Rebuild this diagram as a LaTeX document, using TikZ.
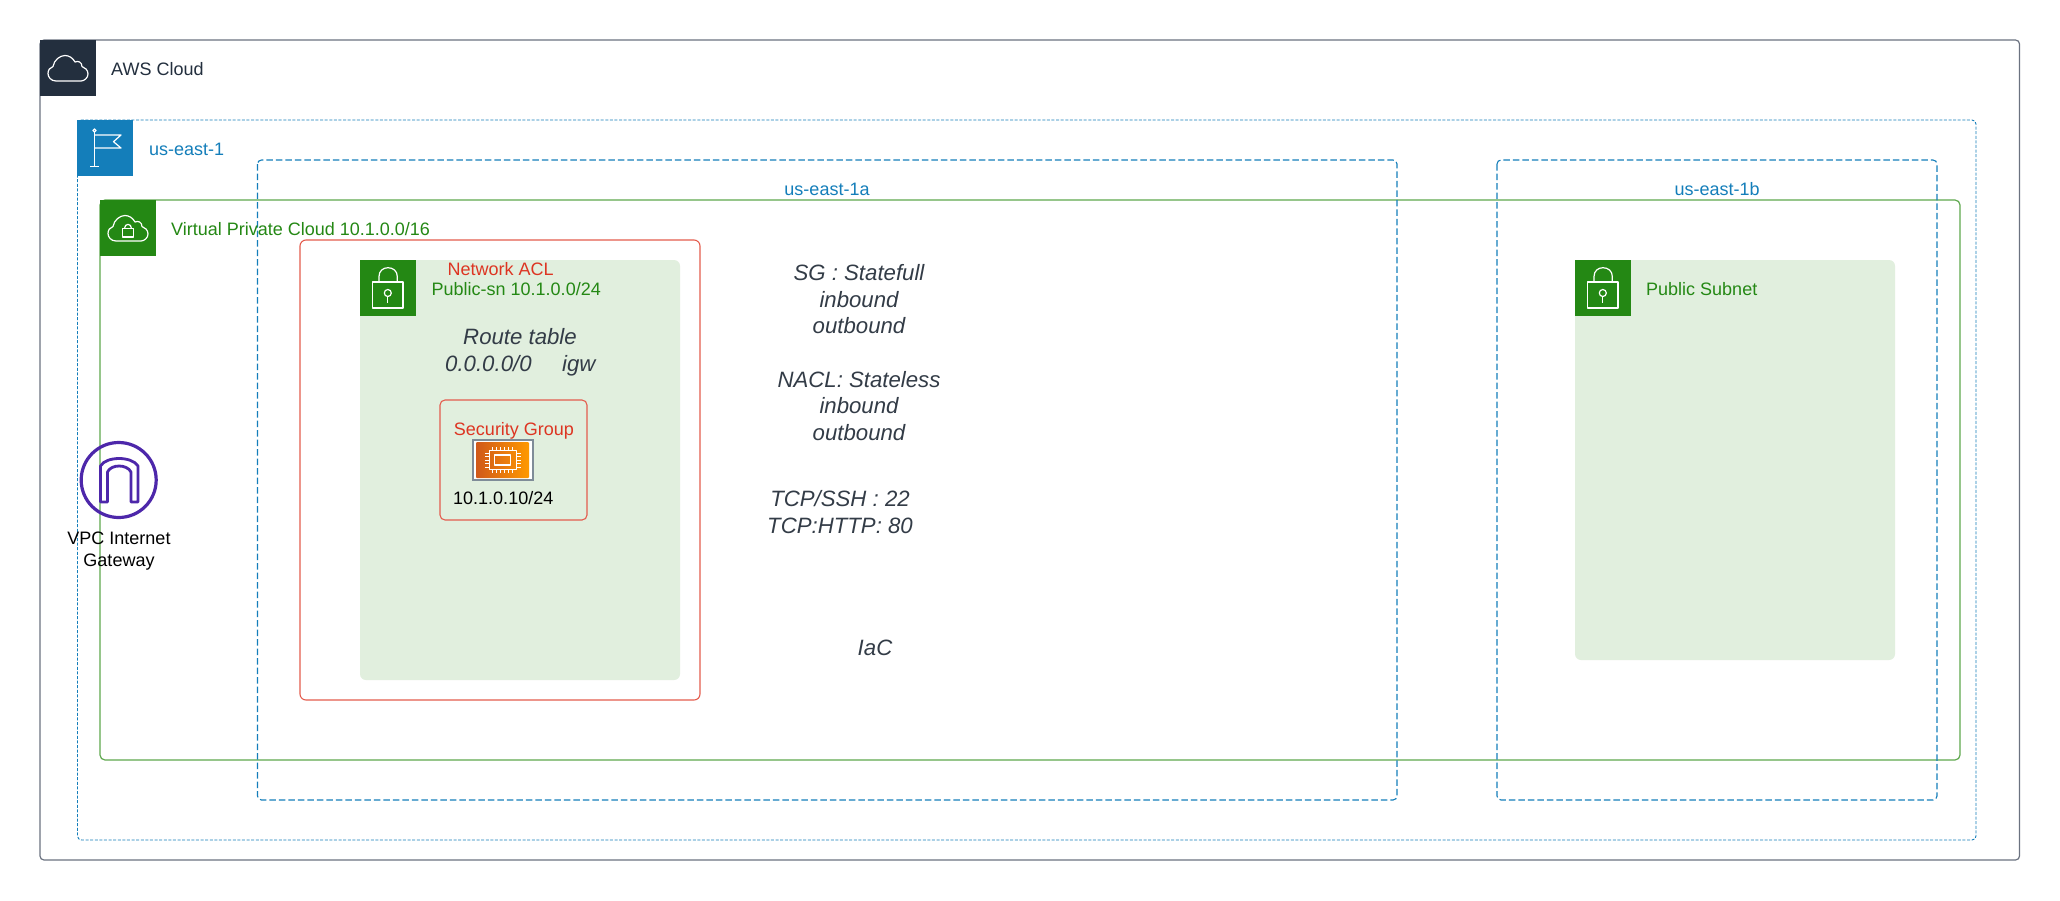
\documentclass[tikz,border=0pt]{standalone}
\usepackage{fontspec}
\setmainfont{Liberation Sans}
\definecolor{awsdark}{HTML}{232F3E}
\definecolor{awsline}{HTML}{6B7280}
\definecolor{regionblue}{HTML}{147EBA}
\definecolor{vpcgreen}{HTML}{248814}
\definecolor{vpcline}{HTML}{5FA84E}
\definecolor{subnetfill}{HTML}{E1EFDE}
\definecolor{aclred}{HTML}{DD3522}
\definecolor{noteink}{HTML}{333C47}
\definecolor{igwpurple}{HTML}{4D27AA}
\definecolor{ec2dark}{HTML}{D0591A}
\definecolor{ec2light}{HTML}{FF9900}
\definecolor{ec2frame}{HTML}{7F8C98}
\tikzset{
  x=1pt,y=-1pt,
  cloudbox/.style={draw=awsline,line width=1.2pt,rounded corners=4pt},
  regionbox/.style={draw=regionblue,line width=0.9pt,dash pattern=on 3pt off 1.6pt,rounded corners=4pt},
  zonebox/.style={draw=regionblue,line width=1.1pt,dash pattern=on 6.5pt off 3pt,rounded corners=4pt},
  vpcbox/.style={draw=vpcline,line width=1.2pt,rounded corners=5pt},
  aclbox/.style={draw=aclred!80,line width=1.1pt,rounded corners=6pt},
  subnetbox/.style={fill=subnetfill,rounded corners=6pt},
  iconline/.style={draw=white,line width=1.2pt,line join=round},
  lbl/.style={inner sep=0pt,anchor=mid west,yshift=-8.5pt,font=\fontsize{18}{22}\selectfont},
  ctr/.style={inner sep=0pt,anchor=mid,yshift=-8.5pt,font=\fontsize{18}{22}\selectfont},
  note/.style={inner sep=0pt,anchor=mid,yshift=-8.5pt,text=noteink,font=\fontsize{22.2}{26}\selectfont\itshape},
  cloudicon/.pic={\path[iconline] (16,41) .. controls (11,41) and (8,37) .. (8,33.5)
      .. controls (8,30) and (10,27.5) .. (13,26.5)
      .. controls (14,20) and (20,15.5) .. (25,15.5)
      .. controls (29,15.5) and (33,18) .. (35,22)
      .. controls (38,20.5) and (42,22) .. (42,26.5)
      .. controls (45,27.5) and (48,30) .. (48,34)
      .. controls (48,38) and (44,41) .. (41,41) -- cycle;},
  lockicon/.pic={\path[iconline] (12.7,22) rectangle (43,48);
    \path[iconline] (19,22) -- (19,16.5) .. controls (19,11) and (23,7.7) .. (28,7.7)
      .. controls (33,7.7) and (37.3,11) .. (37.3,16.5) -- (37.3,22);
    \path[iconline] (27.8,33) circle[radius=3.5pt];
    \path[iconline] (27.8,36.5) -- (27.8,43);},
}
\begin{document}
\begin{tikzpicture}
\useasboundingbox (0,0) rectangle (2060,900);
\fill[white] (0,0) rectangle (2060,900);
% containers
\draw[cloudbox] (40,40) rectangle (2019.5,860);
\draw[regionbox] (77.5,120) rectangle (1976,840);
\draw[vpcbox] (100,200) rectangle (1960,760);
\draw[zonebox] (257.5,160) rectangle (1397,800);
\draw[zonebox] (1497,160) rectangle (1937,800);
\draw[aclbox] (300,240) rectangle (700,700);
\path[subnetbox] (360,260) rectangle (680,680);
\path[subnetbox] (1575,260) rectangle (1895,660);
\draw[aclbox,rounded corners=5pt] (440,400) rectangle (587,520);
% AWS Cloud tab
\fill[awsdark] (40,40) rectangle (96,96);
\begin{scope}[shift={(40,40)}]\pic {cloudicon};\end{scope}
\node[lbl,text=awsdark] (awslabel) at (111,64.5) {AWS Cloud};
% region tab
\fill[regionblue] (77,120) rectangle (133,176);
\begin{scope}[shift={(77,120)}]
  \path[iconline] (17.5,12) -- (17.5,46.7);
  \path[iconline] (13,46.7) -- (22,46.7);
  \path[iconline] (17.5,10.5) circle[radius=1.6pt];
  \path[iconline] (17.5,15) -- (44,15) -- (36.5,21.7) -- (44,28) -- (17.5,28);
\end{scope}
\node[lbl,text=regionblue] (regionlabel) at (149,144.5) {us-east-1};
% VPC tab
\fill[vpcgreen] (100,200) rectangle (156,256);
\begin{scope}[shift={(100,200)}]
  \pic {cloudicon};
  \path[iconline] (22.5,28.5) rectangle (33.5,37);
  \path[iconline] (24.5,28.5) .. controls (24.5,23) and (31.5,23) .. (31.5,28.5);
\end{scope}
\node[lbl,text=vpcgreen] (vpclabel) at (171,224.5) {Virtual Private Cloud 10.1.0.0/16};
% zone labels
\node[ctr,text=regionblue] (zonealabel) at (827,184.5) {us-east-1a};
\node[ctr,text=regionblue] (zoneblabel) at (1717,184.5) {us-east-1b};
% subnet tabs
\fill[vpcgreen] (360,260) rectangle (416,316);
\begin{scope}[shift={(360,260)}]\pic {lockicon};\end{scope}
\fill[vpcgreen] (1575,260) rectangle (1631,316);
\begin{scope}[shift={(1575,260)}]\pic {lockicon};\end{scope}
\node[lbl,text=aclred] (acllabel) at (447.5,264.5) {Network ACL};
\node[lbl,text=vpcgreen] (subnetalabel) at (431.5,284.5) {Public-sn 10.1.0.0/24};
\node[lbl,text=vpcgreen] (subnetblabel) at (1646,284.5) {Public Subnet};
% route table text
\node[note] (routetitle) at (520,333) {Route table};
\node[note,anchor=mid west] (routedest) at (445,360) {0.0.0.0/0};
\node[note,anchor=mid west] (routetarget) at (562,360) {igw};
% security group
\node[ctr,text=aclred] (sglabel) at (514,424.5) {Security Group};
\fill[ec2frame] (472,439) rectangle (534,481);
\fill[white] (474,441) rectangle (532,479);
\shade[left color=ec2dark,right color=ec2light,rounded corners=1pt] (476,442) rectangle (529,478);
\begin{scope}[shift={(502.7,460)}]
  \path[iconline,line width=1.1pt] (-13.5,-9.5) rectangle (13.5,9.5);
  \path[iconline,line width=1.1pt] (-8,-5) rectangle (8,5);
  \foreach \px in {-10,-6,-2,2,6,10}{
    \path[iconline,line width=0.8pt] (\px,-9.5) -- (\px,-13);
    \path[iconline,line width=0.8pt] (\px,9.5) -- (\px,13);}
  \foreach \py in {-7,-3.5,0,3.5,7}{
    \path[iconline,line width=0.8pt] (-13.5,\py) -- (-18,\py);
    \path[iconline,line width=0.8pt] (13.5,\py) -- (18,\py);}
\end{scope}
\node[lbl,text=black] (hostlabel) at (453,493.5) {10.1.0.10/24};
% internet gateway
\draw[igwpurple,line width=3.2pt] (118.7,480) circle[radius=37.5pt];
\draw[igwpurple,line width=2.8pt,line join=round]
  (100.5,502) -- (100.5,466) .. controls (106,456) and (132,456) .. (138,466) -- (138,502)
  -- (131,502) -- (131,472) .. controls (127,464) and (111,464) .. (107.5,472) -- (107.5,502) -- cycle;
\node[ctr,text=black] (igwa) at (119,533.5) {VPC Internet};
\node[ctr,text=black] (igwb) at (119,555.5) {Gateway};
% notes
\node[note] (n1) at (859,269) {SG : Statefull};
\node[note] (n2) at (859,296) {inbound};
\node[note] (n3) at (859,322) {outbound};
\node[note] (n4) at (859,376) {NACL: Stateless};
\node[note] (n5) at (859,402.5) {inbound};
\node[note] (n6) at (859,429) {outbound};
\node[note] (n7) at (840,495.5) {TCP/SSH : 22};
\node[note] (n8) at (840,522) {TCP:HTTP: 80};
\node[note] (n9) at (875,644.5) {IaC};
\end{tikzpicture}
\end{document}
